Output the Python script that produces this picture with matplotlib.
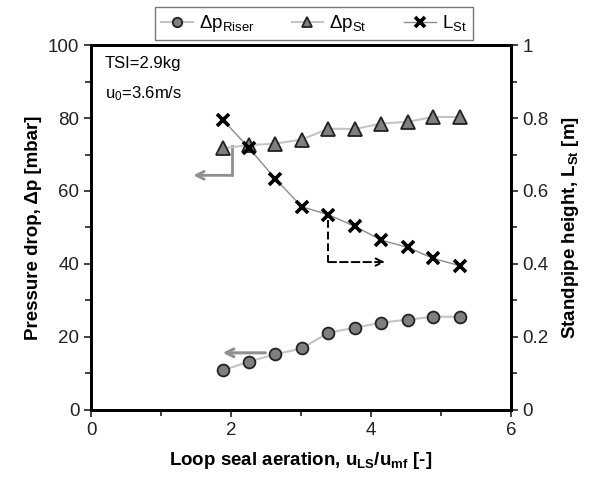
import matplotlib
matplotlib.use("Agg")
import matplotlib.pyplot as plt
from matplotlib.ticker import MultipleLocator, FixedLocator

plt.rcParams['font.family'] = ['Liberation Sans', 'DejaVu Sans']
plt.rcParams['mathtext.fontset'] = 'custom'
plt.rcParams['mathtext.rm'] = 'Liberation Sans'
plt.rcParams['mathtext.it'] = 'Liberation Sans:italic'
plt.rcParams['mathtext.bf'] = 'Liberation Sans:bold'

# loop seal aeration u_LS/u_mf
aeration = [1.88, 2.26, 2.63, 3.01, 3.39, 3.77, 4.15, 4.53, 4.89, 5.27]
# pressure drop riser [mbar]
dp_riser = [10.8, 13.2, 15.2, 16.8, 21.1, 22.5, 23.9, 24.7, 25.5, 25.5]
# pressure drop standpipe [mbar]
dp_st = [71.7, 72.6, 73.0, 74.1, 77.1, 77.0, 78.5, 79.0, 80.3, 80.3]
# standpipe height [m]
l_st = [0.796, 0.717, 0.634, 0.557, 0.535, 0.503, 0.465, 0.445, 0.415, 0.395]

right_ticks = [0, 0.2, 0.4, 0.6, 0.8, 1.0]
right_labels = ['0', '0.2', '0.4', '0.6', '0.8', '1']

# arrows pointing to the axis each series belongs to
arrow_st = [(2.01, 72.3), (2.01, 64.3), (1.46, 64.3)]
arrow_riser = [(2.49, 15.6), (1.88, 15.6)]
arrow_l = [(3.39, 0.52), (3.39, 0.405), (4.2, 0.405)]

fig = plt.figure(figsize=(5.92, 4.86), dpi=100)
ax = fig.add_axes([0.154, 0.157, 0.709, 0.750])
ax2 = ax.twinx()

grey_line = '#c4c4c4'
ax.plot(aeration, dp_riser, '-o', color=grey_line, lw=1.5, mfc='#7f7f7f',
        mec='#222222', mew=1.3, ms=8.5, label='Δp$_{\\mathrm{Riser}}$', zorder=3)
ax.plot(aeration, dp_st, '-^', color=grey_line, lw=1.5, mfc='#7f7f7f',
        mec='#222222', mew=1.3, ms=9.5, label='Δp$_{\\mathrm{St}}$', zorder=3)
ax2.plot(aeration, l_st, '-x', color='#8c8c8c', lw=1.0, mec='black',
         mew=2.6, ms=9, label='L$_{\\mathrm{St}}$', zorder=4)

# grey elbow arrow (St -> left axis)
ax.plot([arrow_st[0][0], arrow_st[1][0]], [arrow_st[0][1], arrow_st[1][1]],
        color='#8f8f8f', lw=2)
ax.annotate('', xy=arrow_st[2], xytext=arrow_st[1],
            arrowprops=dict(arrowstyle='->', color='#8f8f8f', lw=2,
                            mutation_scale=14, shrinkA=0, shrinkB=0))
# grey arrow (riser -> left axis)
ax.annotate('', xy=arrow_riser[1], xytext=arrow_riser[0],
            arrowprops=dict(arrowstyle='->', color='#8f8f8f', lw=2.2,
                            mutation_scale=14, shrinkA=0, shrinkB=0))
# dashed arrow (L_St -> right axis)
ax2.plot([arrow_l[0][0], arrow_l[1][0]], [arrow_l[0][1], arrow_l[1][1]],
         color='black', lw=1.4, ls=(0, (4, 2)))
ax2.annotate('', xy=arrow_l[2], xytext=arrow_l[1],
             arrowprops=dict(arrowstyle='->', color='black', lw=1.4,
                             linestyle=(0, (4, 2)), mutation_scale=13,
                             shrinkA=0, shrinkB=0))

ax.set_xlim(0, 6)
ax.set_ylim(0, 100)
ax2.set_ylim(0, 1)
ax.xaxis.set_major_locator(MultipleLocator(2))
ax.xaxis.set_minor_locator(MultipleLocator(1))
ax.yaxis.set_major_locator(MultipleLocator(20))
ax.yaxis.set_minor_locator(MultipleLocator(10))
ax2.yaxis.set_major_locator(FixedLocator(right_ticks))
ax2.set_yticklabels(right_labels)
ax2.yaxis.set_minor_locator(MultipleLocator(0.1))

for a in (ax, ax2):
    for s in a.spines.values():
        s.set_linewidth(2)
        s.set_color('black')
    a.tick_params(which='major', direction='out', length=5, width=1.2,
                  labelsize=13.5, colors='#222222')
    a.tick_params(which='minor', direction='out', length=4, width=1.2,
                  colors='#222222')

ax.set_xlabel('Loop seal aeration, u$_{\\mathbf{LS}}$/u$_{\\mathbf{mf}}$ [-]',
              fontsize=13.5, fontweight='bold', labelpad=8)
ax.set_ylabel('Pressure drop, Δp [mbar]', fontsize=13.5, fontweight='bold',
              labelpad=4)
ax2.set_ylabel('Standpipe height, L$_{\\mathbf{St}}$ [m]', fontsize=13.5,
               fontweight='bold', labelpad=8)

ax.text(0.033, 0.95, 'TSI=2.9kg', transform=ax.transAxes, fontsize=12,
        va='center', ha='left')
ax.text(0.033, 0.868, 'u$_0$=3.6m/s', transform=ax.transAxes, fontsize=12,
        va='center', ha='left')

h1, l1 = ax.get_legend_handles_labels()
h2, l2 = ax2.get_legend_handles_labels()
leg = fig.legend(h1 + h2, l1 + l2, loc='upper center',
                 bbox_to_anchor=(0.53, 0.985), ncol=3, fontsize=13.5,
                 frameon=True, fancybox=False, edgecolor='#555555',
                 handlelength=1.7, handletextpad=0.3, columnspacing=2.0,
                 borderpad=0.32, borderaxespad=0, markerscale=0.8)
leg.get_frame().set_linewidth(1)

fig.savefig('out.png', dpi=100)
